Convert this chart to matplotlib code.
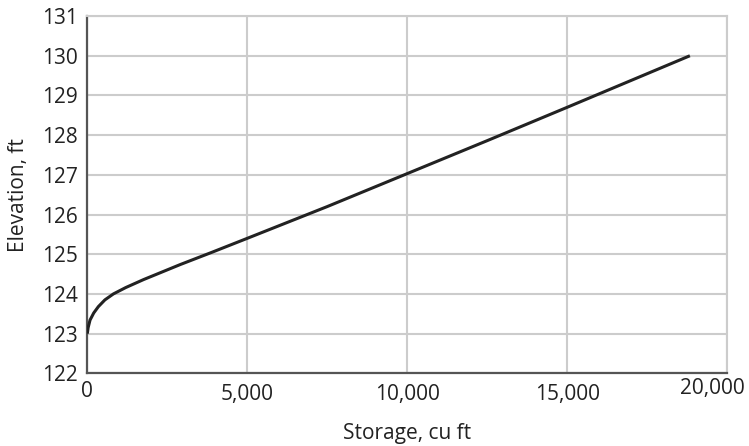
import matplotlib
matplotlib.use("Agg")
import matplotlib.pyplot as plt
from matplotlib.ticker import FuncFormatter
from matplotlib.transforms import ScaledTranslation

storage = [0, 25, 84, 200, 345, 550, 815, 1200, 1755, 2300, 2906, 3900,
           5000, 7500, 10000, 12500, 15000, 18840]
elevation = [123.0, 123.15, 123.34, 123.52, 123.68, 123.85, 124.0, 124.16,
             124.36, 124.54, 124.74, 125.05, 125.4, 126.2, 127.03, 127.86,
             128.7, 130.0]
x_ticks = [0, 5000, 10000, 15000, 20000]
y_ticks = list(range(122, 132))

plt.rcParams['font.family'] = ['Open Sans', 'DejaVu Sans']

fig = plt.figure(figsize=(7.49, 4.46), dpi=100)
ax = fig.add_axes([0.1166, 0.163, 0.8540, 0.801])

ax.plot(storage, elevation, color='#222222', lw=2.2, solid_capstyle='butt', zorder=3)

ax.set_xlim(0, 20000)
ax.set_ylim(122, 131)
ax.set_xticks(x_ticks)
ax.set_yticks(y_ticks)
ax.xaxis.set_major_formatter(FuncFormatter(lambda v, p: f"{int(v):,}"))
ax.grid(True, color='#cccccc', lw=1.5)
ax.set_axisbelow(True)
for s in ['top', 'right']:
    ax.spines[s].set_color('#cccccc')
    ax.spines[s].set_linewidth(1.5)
for s in ['left', 'bottom']:
    ax.spines[s].set_color('#555555')
    ax.spines[s].set_linewidth(1.6)
ax.tick_params(axis='both', length=0, labelsize=15, labelcolor='#222222')
ax.tick_params(axis='x', pad=8)
ax.tick_params(axis='y', pad=7)

fig.canvas.draw()
lbls = ax.get_xticklabels()
lbls[-1].set_transform(lbls[-1].get_transform() + ScaledTranslation(-0.15, 0.06, fig.dpi_scale_trans))
lbls[0].set_transform(lbls[0].get_transform() + ScaledTranslation(0, 0.03, fig.dpi_scale_trans))

ax.set_xlabel('Storage, cu ft', fontsize=15, color='#222222', labelpad=13)
ax.set_ylabel('Elevation, ft', fontsize=15, color='#222222', labelpad=9)

fig.savefig('out.png', dpi=100)
